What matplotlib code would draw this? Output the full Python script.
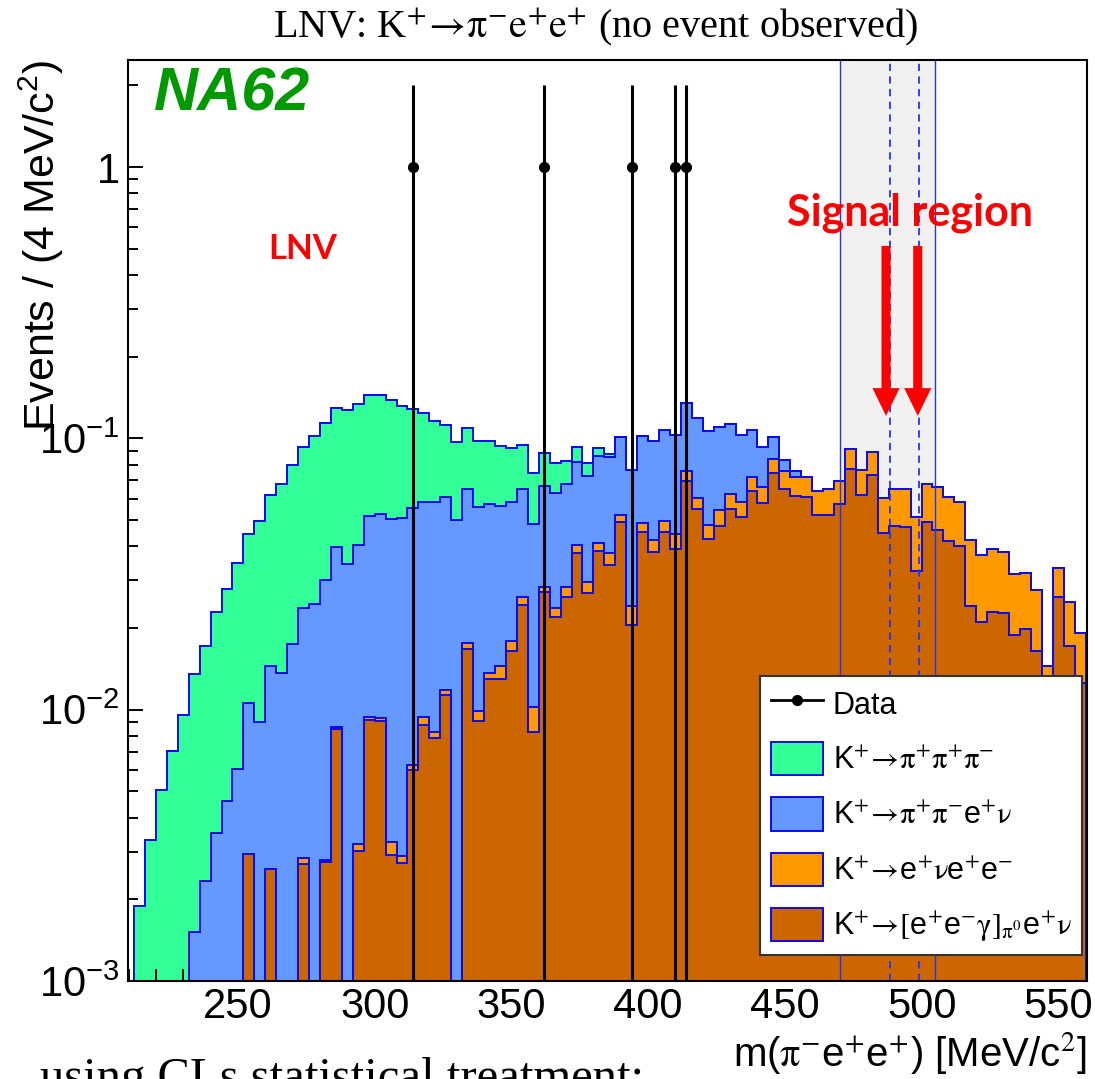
import numpy as np
import matplotlib
matplotlib.use("Agg")
import matplotlib.pyplot as plt
from matplotlib.patches import Patch
from matplotlib.lines import Line2D
from matplotlib.ticker import MultipleLocator, FixedLocator, FixedFormatter, LogLocator, NullFormatter
from matplotlib.font_manager import FontProperties

plt.rcParams['font.family'] = ['Liberation Sans', 'DejaVu Sans']
plt.rcParams['mathtext.fontset'] = 'custom'
plt.rcParams['mathtext.rm'] = 'Liberation Sans'
plt.rcParams['mathtext.it'] = 'Liberation Sans:italic'
plt.rcParams['mathtext.bf'] = 'Liberation Sans:bold'

# 4 MeV/c2 bins, 212 -> 560
BIN_LO, BIN_HI, BIN_W = 212, 560, 4

# stacked totals (events / bin)
green_top = [0.00189, 0.00331, 0.00506, 0.00706, 0.00956, 0.0135, 0.0171, 0.0229, 0.0279, 0.0348,
             0.0444, 0.0496, 0.0619, 0.0679, 0.0800, 0.0932, 0.102, 0.114, 0.129, 0.127,
             0.134, 0.145, 0.144, 0.138, 0.132, 0.128, 0.124, 0.116, 0.112, 0.0970,
             0.109, 0.0981, 0.0981, 0.0938, 0.0922, 0.0943, 0.0744, 0.0886, 0.0809, 0.0828,
             0.0927, 0.0814, 0.0919, 0.0876] + [0] * 43

blue_top = [0] * 5 + [0.00152, 0.00234, 0.00352, 0.00461, 0.00603,
            0.0106, 0.00903, 0.0145, 0.0137, 0.0175, 0.0238, 0.0245, 0.0301, 0.0399, 0.0344,
            0.0405, 0.0518, 0.0526, 0.0503, 0.0510, 0.0556, 0.0585, 0.0583, 0.0610, 0.0500,
            0.0651, 0.0560, 0.0573, 0.0564, 0.0585, 0.0651, 0.0484, 0.0668, 0.0628, 0.0679,
            0.0816, 0.0729, 0.0861, 0.0856, 0.101, 0.0764, 0.102, 0.0981, 0.107, 0.103,
            0.135, 0.119, 0.106, 0.110, 0.113, 0.103, 0.107, 0.0932, 0.101, 0.0833,
            0.0760] + [0] * 26

orange_top = [0] * 10 + [
    0, 0, 0, 0, 0, 0.00285, 0, 0.00279, 0.00861, 0,
    0.00320, 0.00938, 0.00930, 0.00325, 0.00290, 0.00624, 0.00938, 0.00828, 0.0118, 0,
    0.0176, 0.00989, 0.0136, 0.0145, 0.0179, 0.0261, 0.0102, 0.0283, 0.0238, 0.0283,
    0.0406, 0.0296, 0.0411, 0.0377, 0.0522, 0.0242, 0.0489, 0.0422, 0.0496, 0.0444,
    0.0760, 0.0605, 0.0480, 0.0543, 0.0624, 0.0583, 0.0719, 0.0664, 0.0837, 0.0760,
    0.0722, 0.0722, 0.0642, 0.0653, 0.0695, 0.0914, 0.0764, 0.0891, 0.0602, 0.0649,
    0.0653, 0.0512, 0.0679, 0.0664, 0.0610, 0.0583, 0.0422, 0.0372, 0.0391, 0.0382,
    0.0316, 0.0320, 0.0275, 0.0145, 0.0332, 0.0250, 0.0192]

brown_top = [0] * 10 + [
    0.00294, 0, 0.00259, 0, 0, 0.00269, 0, 0.00275, 0.00849, 0,
    0.00302, 0.00916, 0.00911, 0.00291, 0.00272, 0.00599, 0.00878, 0.00785, 0.0113, 0,
    0.0168, 0.00911, 0.0130, 0.0130, 0.0164, 0.0243, 0.00828, 0.0271, 0.0220, 0.0260,
    0.0377, 0.0270, 0.0385, 0.0342, 0.0493, 0.0205, 0.0451, 0.0380, 0.0451, 0.0390,
    0.0698, 0.0548, 0.0425, 0.0475, 0.0548, 0.0512, 0.0640, 0.0579, 0.0744, 0.0649,
    0.0614, 0.0607, 0.0523, 0.0523, 0.0573, 0.0773, 0.0620, 0.0731, 0.0447, 0.0477,
    0.0473, 0.0325, 0.0491, 0.0460, 0.0418, 0.0401, 0.0241, 0.0210, 0.0229, 0.0227,
    0.0189, 0.0198, 0.0164, 0.0090, 0.0261, 0.0171, 0.0125]

# observed events (one per bin)
data_x = [314, 362, 394, 410, 414]
data_n = [1, 1, 1, 1, 1]
data_err = [1, 1, 1, 1, 1]

sig_box = (470, 505)
sig_lines = [488.5, 499.0]
arrow_x = [487.0, 498.6]

labels = ['Data',
          r'K$^{+}\!\rightarrow\!\mathrm{\pi}^{+}\mathrm{\pi}^{+}\mathrm{\pi}^{-}$',
          r'K$^{+}\!\rightarrow\!\mathrm{\pi}^{+}\mathrm{\pi}^{-}$e$^{+}\mathrm{\nu}$',
          r'K$^{+}\!\rightarrow\!$e$^{+}\mathrm{\nu}$e$^{+}$e$^{-}$',
          r'K$^{+}\!\rightarrow\![$e$^{+}$e$^{-}\mathrm{\gamma}]_{\mathrm{\pi}^{0}}$e$^{+}\mathrm{\nu}$']
colors = ['#33ff99', '#6699ff', '#ff9900', '#cc6600']
EDGE = '#0a0aee'

edges = np.arange(BIN_LO, BIN_HI + BIN_W, BIN_W)
brown = np.array(brown_top, float)
orange = np.maximum(np.array(orange_top, float), brown)
blue = np.maximum(np.array(blue_top, float), orange)
green = np.maximum(np.array(green_top, float), blue)

fig = plt.figure(figsize=(10.95, 10.79), dpi=100)
ax = fig.add_axes([128 / 1095, 1 - 981 / 1079, 959 / 1095, 921 / 1079])
ax.set_yscale('log')
ax.set_xlim(209.8, 560.5)
ax.set_ylim(1e-3, 2.48)

ax.axvspan(*sig_box, color='#f0f0f0', zorder=0.5, lw=0)

for i, vals in enumerate([green, blue, orange, brown]):
    ax.stairs(np.clip(vals, 1e-6, None), edges, baseline=1e-6, fill=True,
              facecolor=colors[i], edgecolor=EDGE, lw=1.4, zorder=1 + i)

for xv in sig_box:
    ax.axvline(xv, color='#2233ff', lw=1.0, zorder=6)
for xv in sig_lines:
    ax.axvline(xv, color='#2233ff', lw=1.3, ls=(0, (4, 3)), zorder=6)

y = np.array(data_n, float)
err_lo = y - 1e-6
ax.errorbar(data_x, y, yerr=[err_lo, np.array(data_err, float)], fmt='o', color='k',
            ms=7, elinewidth=2.2, capsize=0, zorder=8)

for xa in arrow_x:
    ax.annotate('', xy=(xa, 0.121), xytext=(xa, 0.512),
                arrowprops=dict(width=6.5, headwidth=19.5, headlength=20, shrink=0,
                                facecolor='#ff0000', edgecolor='none'), zorder=9)

ax.text(495.8, 0.68, 'Signal region', color='#ff0000', fontsize=31, fontweight='bold',
        family='Lato', ha='center', va='center', zorder=9)
ax.text(273.7, 0.50, 'LNV', color='#ff0000', fontsize=25, fontweight='bold',
        family='Lato', ha='center', va='center', zorder=9)
ax.text(0.027, 0.962, 'NA62', transform=ax.transAxes, color='#009900', fontsize=44,
        fontweight='bold', fontstyle='italic', ha='left', va='center', zorder=9)

# axes styling
ax.xaxis.set_major_locator(MultipleLocator(50))
ax.xaxis.set_minor_locator(MultipleLocator(10))
ax.yaxis.set_major_locator(FixedLocator([1e-3, 1e-2, 1e-1, 1]))
ax.yaxis.set_major_formatter(FixedFormatter([r'$10^{-3}$', r'$10^{-2}$', r'$10^{-1}$', '1']))
ax.yaxis.set_minor_locator(LogLocator(base=10, subs=np.arange(2, 10)))
ax.yaxis.set_minor_formatter(NullFormatter())
ax.tick_params(axis='x', which='major', direction='in', length=18, width=1.4, labelsize=30, pad=4)
ax.tick_params(axis='x', which='minor', direction='in', length=9, width=1.4)
ax.tick_params(axis='y', which='major', direction='in', length=11, width=1.4, labelsize=30, pad=6)
ax.tick_params(axis='y', which='minor', direction='in', length=7.5, width=1.4)
for s in ax.spines.values():
    s.set_linewidth(1.5)
    s.set_zorder(10)

ax.set_ylabel('Events / (4 MeV/c$^{2}$)', fontsize=31, loc='top')
ax.yaxis.set_label_coords(-0.065, 1.0)
ax.set_xlabel(r'm($\mathrm{\pi}^{-}$e$^{+}$e$^{+}$) [MeV/c$^{2}$]', fontsize=29, loc='right',
              math_fontfamily='stix')
ax.xaxis.set_label_coords(1.0, -0.053)

fig.text(595 / 1095, 1 - 27 / 1079,
         r'LNV: K$^{+}\!\rightarrow\!\mathrm{\pi}^{-}\mathrm{e}^{+}\mathrm{e}^{+}$ (no event observed)',
         fontsize=29, family='Liberation Serif', math_fontfamily='stix', ha='center', va='center')
fig.text(40 / 1095, 1 - 1057 / 1079, 'using CLs statistical treatment:', fontsize=35,
         family='Liberation Serif', ha='left', va='top')

handles = [Line2D([], [], color='k', marker='o', ms=7, lw=2)]
handles += [Patch(facecolor=c, edgecolor=EDGE, lw=1.4) for c in colors]
leg = ax.legend(handles, labels, loc='upper left', bbox_to_anchor=(0.659, 0.331),
                prop=FontProperties(family=['Liberation Sans', 'DejaVu Sans'], size=22,
                                    math_fontfamily='stix'),
                handlelength=1.7, handleheight=1.3, handletextpad=0.33, labelspacing=0.7,
                borderpad=0.35, borderaxespad=0, fancybox=False, framealpha=1,
                edgecolor='#333333')
leg.get_frame().set_linewidth(1.5)
leg.set_zorder(20)

fig.savefig('out.png', dpi=100)
